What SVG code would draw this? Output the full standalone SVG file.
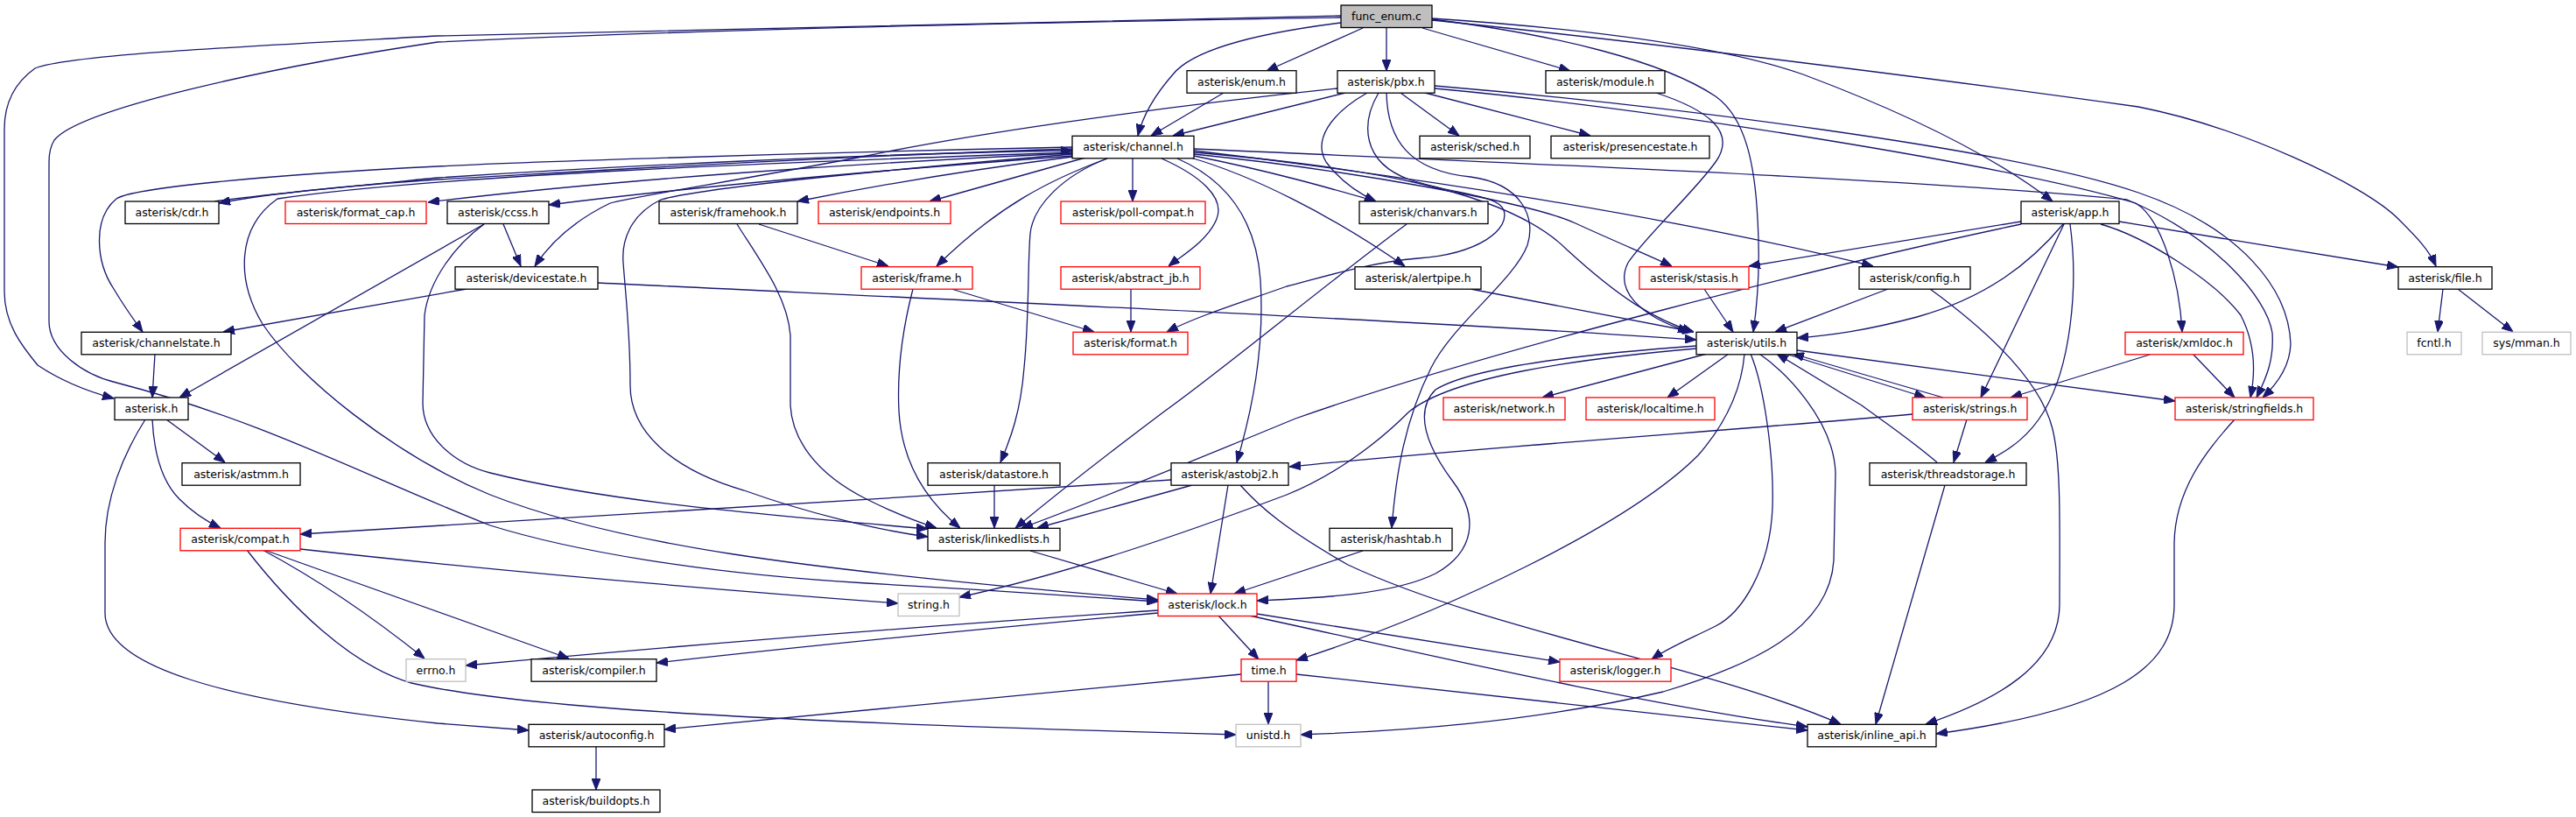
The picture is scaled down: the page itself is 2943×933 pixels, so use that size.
<svg xmlns="http://www.w3.org/2000/svg" width="2943" height="933" viewBox="0 0 2943 933">
<style>
.n rect{fill:#fff;stroke:#000;stroke-width:1.3}
.r rect{fill:#fff;stroke:#ff0000;stroke-width:1.3}
.g rect{fill:#fff;stroke:#bfbfbf;stroke-width:1.3}
.root rect{fill:#bfbfbf;stroke:#000;stroke-width:1.3}
text{font-family:"DejaVu Sans","Liberation Sans",sans-serif;font-size:12.5px;fill:#000;text-anchor:middle}
#edges path{fill:none;stroke:#191970;stroke-width:1.3;marker-end:url(#ah)}
</style>
<defs>
<marker id="ah" markerWidth="13" markerHeight="10" refX="13" refY="5" orient="auto" markerUnits="userSpaceOnUse"><path d="M0,0 L13,5 L0,10 z" fill="#191970" stroke="#191970" stroke-width="1"/></marker>
</defs>
<rect width="2943" height="933" fill="#fff"/>
<g id="edges">
<path d="M1532,18 C1100,27 800,34 500,41 C300,52 80,62 40,78 C12,98 5,125 5,147 L5,333 C5,370 25,395 43,417 C70,435 100,447 130,455"/>
<path d="M1532,20 C1100,27 800,34 500,48 C300,78 90,125 62,160 C57,168 56,175 56,185 L56,367 C56,400 95,428 133,437 C300,480 420,545 560,600 C650,628 800,655 990,666 C1100,672 1220,680 1323,687"/>
<path d="M1532,26 C1420,40 1360,60 1340,85 C1318,110 1305,135 1300,155"/>
<path d="M1557,32 L1447,81"/>
<path d="M1584,32 L1584,81"/>
<path d="M1625,32 L1794,81"/>
<path d="M1636,22 C1780,40 1900,70 1960,110 C1995,135 2005,190 2008,250 C2011,300 2008,345 2003,379"/>
<path d="M1636,21 C1800,32 1960,50 2060,85 C2180,130 2280,180 2345,230"/>
<path d="M1636,23 C1900,50 2250,95 2443,122 C2560,145 2700,210 2740,250 C2760,270 2775,285 2783,304"/>
<path d="M1398,106 L1315,155"/>
<path d="M1537,106 L1340,155"/>
<path d="M1528,101 C1300,125 1100,155 990,178 C850,205 720,225 697,232 C660,250 630,275 611,304"/>
<path d="M1600,106 L1667,155"/>
<path d="M1628,106 L1817,155"/>
<path d="M1562,106 C1520,130 1500,160 1515,185 C1530,205 1550,220 1572,230"/>
<path d="M1575,106 C1555,140 1555,185 1610,205 C1660,222 1712,222 1718,240 C1725,262 1690,290 1620,295 C1560,300 1500,320 1470,327 C1420,345 1370,360 1333,379"/>
<path d="M1584,106 C1585,160 1610,195 1680,202 C1740,210 1755,250 1745,280 C1730,320 1660,370 1635,420 C1605,480 1595,540 1590,603"/>
<path d="M1639,101 C1900,125 2300,190 2440,232 C2470,250 2490,320 2493,379"/>
<path d="M1639,98 C1900,120 2300,170 2443,220 C2560,260 2615,330 2617,393 C2616,420 2600,440 2585,454"/>
<path d="M1892,106 C1950,125 1985,150 1960,185 C1935,220 1880,270 1860,300 C1845,330 1870,360 1930,379"/>
<path d="M1225,170 C900,180 600,200 500,205 C400,212 300,222 250,232"/>
<path d="M245,230 C300,222 450,208 500,203 C700,190 1000,175 1225,172"/>
<path d="M1225,175 C1000,185 700,205 489,231"/>
<path d="M1225,168 C900,175 600,185 500,190 C300,200 150,215 133,227 C105,250 110,300 130,330 C145,355 155,368 163,379"/>
<path d="M1225,178 C1000,195 800,212 627,234"/>
<path d="M1225,174 C900,185 500,200 317,227 C270,260 270,320 300,370 C340,430 450,520 560,565 C700,620 900,650 1323,685"/>
<path d="M1225,176 C1000,195 800,215 755,228 C720,245 710,275 712,300 C715,340 720,380 720,440 C720,500 780,540 850,560 C920,585 1000,605 1060,613"/>
<path d="M1225,179 C1100,195 1000,212 911,230"/>
<path d="M1240,180 L1062,230"/>
<path d="M1265,181 C1200,205 1140,235 1070,304"/>
<path d="M1294,180 L1294,230"/>
<path d="M1265,181 C1215,200 1180,235 1177,267 C1174,300 1176,360 1170,420 C1166,470 1155,500 1143,528"/>
<path d="M1327,181 C1370,200 1400,225 1390,250 C1380,275 1350,292 1335,304"/>
<path d="M1345,181 C1400,205 1435,250 1440,320 C1445,400 1430,470 1413,528"/>
<path d="M1364,178 C1450,195 1520,215 1572,230"/>
<path d="M1360,180 C1430,200 1520,245 1605,304"/>
<path d="M1364,174 C1550,190 1720,215 1790,285 C1850,340 1890,365 1935,379"/>
<path d="M1364,176 C1550,195 1750,232 1800,255 C1850,278 1885,292 1910,304"/>
<path d="M1364,172 C1600,200 1900,245 2140,304"/>
<path d="M1364,170 C1700,185 2200,205 2430,228 C2530,270 2590,340 2596,380 C2598,410 2590,430 2578,454"/>
<path d="M2421,253 L2740,305"/>
<path d="M2309,253 L1998,304"/>
<path d="M2309,256 C2100,300 1700,400 1480,478 C1330,540 1230,580 1167,603"/>
<path d="M2357,256 C2320,300 2270,340 2190,362 C2130,378 2090,383 2053,386"/>
<path d="M2358,256 L2263,454"/>
<path d="M2365,256 C2375,330 2365,420 2335,470 C2320,495 2300,512 2268,528"/>
<path d="M2400,256 C2450,270 2530,320 2560,360 C2578,395 2576,430 2571,454"/>
<path d="M553,256 L205,454"/>
<path d="M553,256 C520,280 490,320 485,360 L483,460 C483,500 520,530 560,540 C700,575 900,590 1060,604"/>
<path d="M575,256 L595,304"/>
<path d="M533,330 L255,379"/>
<path d="M683,323 C1100,343 1600,365 1938,388"/>
<path d="M867,256 L1015,304"/>
<path d="M842,256 C870,300 900,340 903,383 L903,463 C905,500 930,540 990,570 C1020,585 1045,595 1070,603"/>
<path d="M1043,330 C1030,380 1025,430 1027,470 C1030,520 1050,565 1097,603"/>
<path d="M1087,330 L1250,379"/>
<path d="M1292,330 L1292,379"/>
<path d="M1607,256 C1520,320 1400,420 1330,470 C1250,530 1200,570 1160,603"/>
<path d="M1680,330 L1935,379"/>
<path d="M1947,330 L1980,379"/>
<path d="M2157,330 L2028,379"/>
<path d="M2205,330 C2260,370 2330,430 2345,490 C2355,530 2353,600 2353,690 C2353,760 2280,800 2200,827"/>
<path d="M2791,330 L2785,379"/>
<path d="M2808,330 L2871,379"/>
<path d="M2456,405 L2297,454"/>
<path d="M2506,405 L2553,454"/>
<path d="M2053,400 L2485,458"/>
<path d="M2040,404 L2200,454"/>
<path d="M2220,454 L2048,404"/>
<path d="M2213,528 C2180,500 2150,480 2127,463 L2030,404"/>
<path d="M2247,479 L2232,528"/>
<path d="M2185,473 C2000,490 1700,510 1473,533"/>
<path d="M2222,554 L2143,827"/>
<path d="M2553,479 C2520,515 2485,560 2484,620 L2484,690 C2484,760 2420,810 2212,838"/>
<path d="M1938,395 C1800,405 1680,420 1640,445 C1615,470 1630,510 1660,550 C1690,590 1685,630 1640,655 C1590,680 1500,683 1436,686"/>
<path d="M1938,398 C1800,410 1660,430 1610,470 C1570,510 1520,545 1470,565 C1350,610 1220,655 1096,682"/>
<path d="M1950,404 L1762,454"/>
<path d="M1975,404 L1905,454"/>
<path d="M1993,404 C1990,440 1975,480 1940,520 C1860,600 1650,700 1481,754"/>
<path d="M2000,404 C2015,440 2027,520 2025,580 C2022,650 1990,700 1960,715 C1930,730 1905,740 1887,753"/>
<path d="M2010,404 C2040,425 2095,480 2097,540 L2095,640 C2090,720 2000,760 1900,790 C1750,825 1600,835 1486,839"/>
<path d="M1323,697 C1100,712 800,735 532,760"/>
<path d="M1323,700 C1100,720 900,740 750,757"/>
<path d="M1392,703 L1438,753"/>
<path d="M1436,701 L1782,756"/>
<path d="M1427,703 C1600,740 1850,800 2065,830"/>
<path d="M1481,770 L2065,834"/>
<path d="M1449,778 L1449,827"/>
<path d="M1418,770 L759,833"/>
<path d="M1177,629 L1345,678"/>
<path d="M1557,629 L1410,678"/>
<path d="M1403,554 L1383,678"/>
<path d="M1362,554 L1185,603"/>
<path d="M1338,548 C1000,570 600,595 343,610"/>
<path d="M1417,554 C1440,580 1470,605 1540,645 C1700,720 1950,760 2103,827"/>
<path d="M1136,554 L1136,603"/>
<path d="M190,479 L257,528"/>
<path d="M174,479 C176,520 185,550 205,570 C220,585 235,595 252,603"/>
<path d="M166,479 C140,520 120,570 120,620 L120,700 C120,760 250,800 500,826 C550,830 580,832 604,834"/>
<path d="M343,627 C550,650 800,672 1026,689"/>
<path d="M302,628 L650,752"/>
<path d="M300,628 C360,660 420,700 485,752"/>
<path d="M282,628 C330,690 400,760 470,780 C600,810 900,825 1412,839"/>
<path d="M681,852 L681,902"/>
<path d="M177,404 L174,454"/>
</g>
<g id="func_enum" class="root"><rect x="1532" y="6" width="104" height="25.5"/><text x="1584" y="23">func_enum.c</text></g>
<g id="enum" class="n"><rect x="1356" y="80.7" width="125" height="25.5"/><text x="1418.5" y="97.7">asterisk/enum.h</text></g>
<g id="pbx" class="n"><rect x="1528" y="80.7" width="111" height="25.5"/><text x="1583.5" y="97.7">asterisk/pbx.h</text></g>
<g id="module" class="n"><rect x="1766" y="80.7" width="136" height="25.5"/><text x="1834" y="97.7">asterisk/module.h</text></g>
<g id="channel" class="n"><rect x="1225" y="155.3" width="139" height="25.5"/><text x="1294.5" y="172.3">asterisk/channel.h</text></g>
<g id="sched" class="n"><rect x="1622" y="155.3" width="126" height="25.5"/><text x="1685" y="172.3">asterisk/sched.h</text></g>
<g id="presencestate" class="n"><rect x="1772" y="155.3" width="181" height="25.5"/><text x="1862.5" y="172.3">asterisk/presencestate.h</text></g>
<g id="cdr" class="n"><rect x="143" y="230" width="107" height="25.5"/><text x="196.5" y="247">asterisk/cdr.h</text></g>
<g id="format_cap" class="r"><rect x="326" y="230" width="161" height="25.5"/><text x="406.5" y="247">asterisk/format_cap.h</text></g>
<g id="ccss" class="n"><rect x="511" y="230" width="116" height="25.5"/><text x="569" y="247">asterisk/ccss.h</text></g>
<g id="framehook" class="n"><rect x="753" y="230" width="158" height="25.5"/><text x="832" y="247">asterisk/framehook.h</text></g>
<g id="endpoints" class="r"><rect x="935" y="230" width="151" height="25.5"/><text x="1010.5" y="247">asterisk/endpoints.h</text></g>
<g id="poll_compat" class="r"><rect x="1212" y="230" width="165" height="25.5"/><text x="1294.5" y="247">asterisk/poll-compat.h</text></g>
<g id="chanvars" class="n"><rect x="1553" y="230" width="147" height="25.5"/><text x="1626.5" y="247">asterisk/chanvars.h</text></g>
<g id="app" class="n"><rect x="2309" y="230" width="112" height="25.5"/><text x="2365" y="247">asterisk/app.h</text></g>
<g id="devicestate" class="n"><rect x="520" y="304.7" width="163" height="25.5"/><text x="601.5" y="321.7">asterisk/devicestate.h</text></g>
<g id="frame" class="r"><rect x="984" y="304.7" width="127" height="25.5"/><text x="1047.5" y="321.7">asterisk/frame.h</text></g>
<g id="abstract_jb" class="r"><rect x="1212" y="304.7" width="159" height="25.5"/><text x="1291.5" y="321.7">asterisk/abstract_jb.h</text></g>
<g id="alertpipe" class="n"><rect x="1548" y="304.7" width="144" height="25.5"/><text x="1620" y="321.7">asterisk/alertpipe.h</text></g>
<g id="stasis" class="r"><rect x="1873" y="304.7" width="125" height="25.5"/><text x="1935.5" y="321.7">asterisk/stasis.h</text></g>
<g id="config" class="n"><rect x="2124" y="304.7" width="127" height="25.5"/><text x="2187.5" y="321.7">asterisk/config.h</text></g>
<g id="file" class="n"><rect x="2740" y="304.7" width="107" height="25.5"/><text x="2793.5" y="321.7">asterisk/file.h</text></g>
<g id="channelstate" class="n"><rect x="93" y="379.3" width="171" height="25.5"/><text x="178.5" y="396.3">asterisk/channelstate.h</text></g>
<g id="format" class="r"><rect x="1226" y="379.3" width="131" height="25.5"/><text x="1291.5" y="396.3">asterisk/format.h</text></g>
<g id="utils" class="n"><rect x="1938" y="379.3" width="115" height="25.5"/><text x="1995.5" y="396.3">asterisk/utils.h</text></g>
<g id="xmldoc" class="r"><rect x="2428" y="379.3" width="135" height="25.5"/><text x="2495.5" y="396.3">asterisk/xmldoc.h</text></g>
<g id="fcntl" class="g"><rect x="2750" y="379.3" width="62" height="25.5"/><text x="2781" y="396.3">fcntl.h</text></g>
<g id="sys_mman" class="g"><rect x="2836" y="379.3" width="101" height="25.5"/><text x="2886.5" y="396.3">sys/mman.h</text></g>
<g id="asterisk" class="n"><rect x="131" y="454" width="84" height="25.5"/><text x="173" y="471">asterisk.h</text></g>
<g id="network" class="r"><rect x="1649" y="454" width="139" height="25.5"/><text x="1718.5" y="471">asterisk/network.h</text></g>
<g id="localtime" class="r"><rect x="1812" y="454" width="147" height="25.5"/><text x="1885.5" y="471">asterisk/localtime.h</text></g>
<g id="strings" class="r"><rect x="2185" y="454" width="131" height="25.5"/><text x="2250.5" y="471">asterisk/strings.h</text></g>
<g id="stringfields" class="r"><rect x="2485" y="454" width="158" height="25.5"/><text x="2564" y="471">asterisk/stringfields.h</text></g>
<g id="astmm" class="n"><rect x="208" y="528.7" width="135" height="25.5"/><text x="275.5" y="545.7">asterisk/astmm.h</text></g>
<g id="datastore" class="n"><rect x="1060" y="528.7" width="151" height="25.5"/><text x="1135.5" y="545.7">asterisk/datastore.h</text></g>
<g id="astobj2" class="n"><rect x="1338" y="528.7" width="134" height="25.5"/><text x="1405" y="545.7">asterisk/astobj2.h</text></g>
<g id="threadstorage" class="n"><rect x="2136" y="528.7" width="179" height="25.5"/><text x="2225.5" y="545.7">asterisk/threadstorage.h</text></g>
<g id="compat" class="r"><rect x="206" y="603.3" width="137" height="25.5"/><text x="274.5" y="620.3">asterisk/compat.h</text></g>
<g id="linkedlists" class="n"><rect x="1060" y="603.3" width="151" height="25.5"/><text x="1135.5" y="620.3">asterisk/linkedlists.h</text></g>
<g id="hashtab" class="n"><rect x="1519" y="603.3" width="140" height="25.5"/><text x="1589" y="620.3">asterisk/hashtab.h</text></g>
<g id="string" class="g"><rect x="1026" y="678" width="70" height="25.5"/><text x="1061" y="695">string.h</text></g>
<g id="lock" class="r"><rect x="1323" y="678" width="113" height="25.5"/><text x="1379.5" y="695">asterisk/lock.h</text></g>
<g id="errno" class="g"><rect x="464" y="752.7" width="68" height="25.5"/><text x="498" y="769.7">errno.h</text></g>
<g id="compiler" class="n"><rect x="607" y="752.7" width="143" height="25.5"/><text x="678.5" y="769.7">asterisk/compiler.h</text></g>
<g id="time" class="r"><rect x="1418" y="752.7" width="63" height="25.5"/><text x="1449.5" y="769.7">time.h</text></g>
<g id="logger" class="r"><rect x="1782" y="752.7" width="127" height="25.5"/><text x="1845.5" y="769.7">asterisk/logger.h</text></g>
<g id="autoconfig" class="n"><rect x="604" y="827.3" width="155" height="25.5"/><text x="681.5" y="844.3">asterisk/autoconfig.h</text></g>
<g id="unistd" class="g"><rect x="1412" y="827.3" width="74" height="25.5"/><text x="1449" y="844.3">unistd.h</text></g>
<g id="inline_api" class="n"><rect x="2065" y="827.3" width="147" height="25.5"/><text x="2138.5" y="844.3">asterisk/inline_api.h</text></g>
<g id="buildopts" class="n"><rect x="608" y="902" width="146" height="25.5"/><text x="681" y="919">asterisk/buildopts.h</text></g>
</svg>
